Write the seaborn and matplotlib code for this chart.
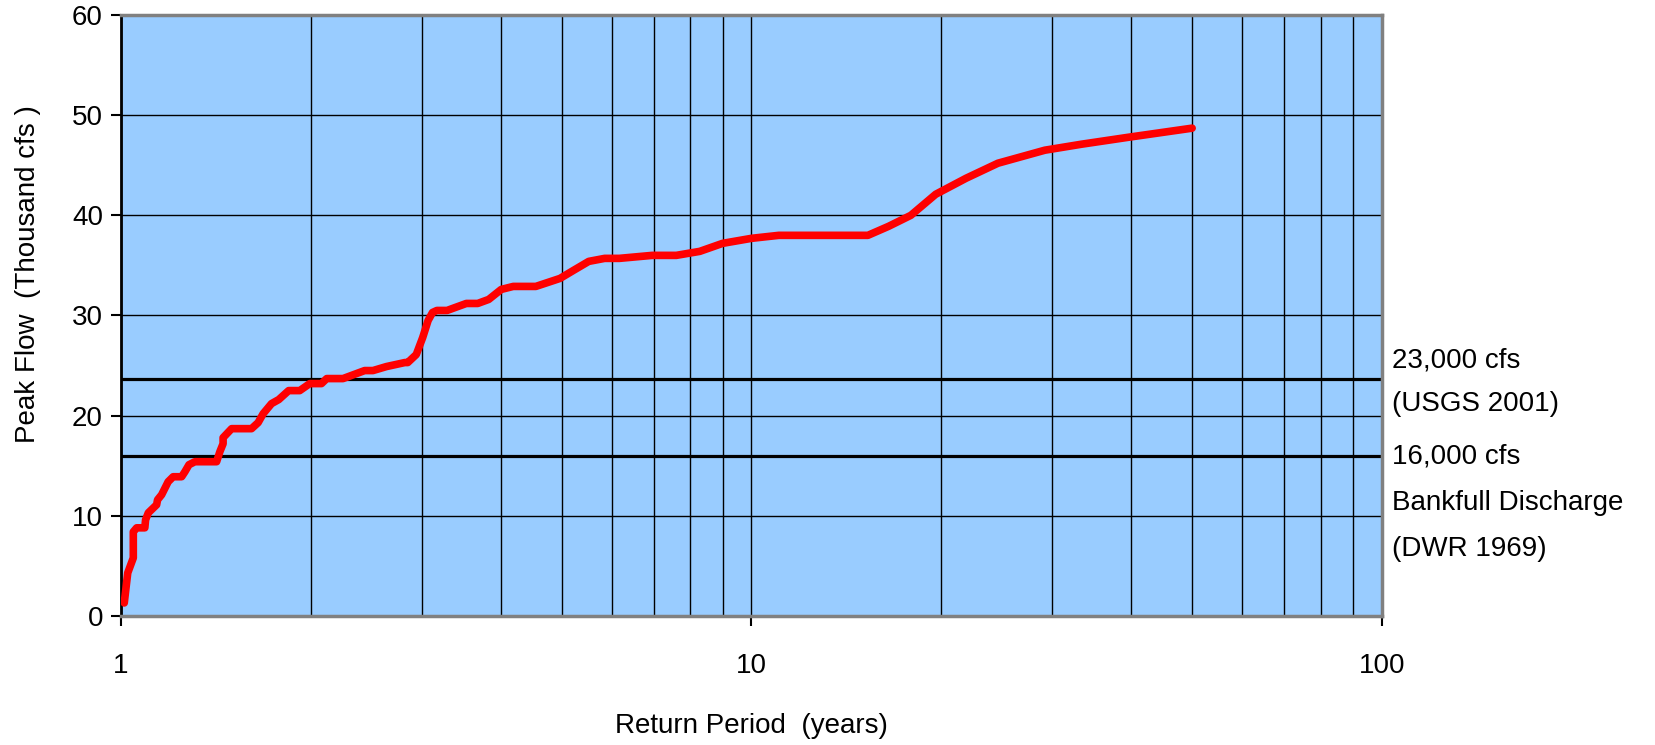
import numpy as np
import pandas as pd
import seaborn as sns
import matplotlib.pyplot as plt
from matplotlib.ticker import FixedLocator, NullFormatter, FixedFormatter

# return period (years) and peak flow (thousand cfs)
return_period = [1.012, 1.025, 1.046, 1.046, 1.059, 1.091, 1.094, 1.105, 1.139, 1.143,
                 1.160, 1.188, 1.210, 1.248, 1.263, 1.282, 1.310, 1.418, 1.435, 1.452,
                 1.452, 1.498, 1.611, 1.650, 1.681, 1.733, 1.779, 1.845, 1.921, 1.993,
                 2.08, 2.12, 2.25, 2.435, 2.51, 2.637, 2.82, 2.85, 2.94, 3.01,
                 3.07, 3.12, 3.17, 3.29, 3.53, 3.68, 3.83, 4.01, 4.19, 4.55,
                 4.97, 5.22, 5.52, 5.85, 6.17, 6.96, 7.60, 8.28, 9.0, 10.0,
                 11.05, 15.3, 16.5, 17.9, 19.6, 21.9, 24.6, 29.2, 33.4, 39.7, 50.0]
peak_flow = [1.3, 4.3, 5.8, 8.4, 8.8, 8.8, 9.6, 10.3, 11.1, 11.6,
             12.1, 13.4, 13.9, 13.9, 14.4, 15.1, 15.4, 15.4, 16.4, 17.2,
             17.8, 18.7, 18.7, 19.3, 20.2, 21.2, 21.6, 22.5, 22.5, 23.2,
             23.2, 23.7, 23.7, 24.5, 24.5, 24.9, 25.3, 25.3, 26.1, 27.8,
             29.5, 30.3, 30.5, 30.5, 31.2, 31.2, 31.6, 32.6, 32.9, 32.9,
             33.7, 34.5, 35.4, 35.7, 35.7, 36.0, 36.0, 36.4, 37.2, 37.7,
             38.0, 38.0, 38.9, 40.0, 42.1, 43.7, 45.2, 46.5, 47.1, 47.8, 48.7]

ref_levels = [23.7, 16.0]
ref_labels = ["23,000 cfs", "(USGS 2001)", "16,000 cfs", "Bankfull Discharge", "(DWR 1969)"]
ref_label_y = [25.5, 21.2, 15.9, 11.3, 6.7]

df = pd.DataFrame({'T': return_period, 'Q': peak_flow})

sns.set_style('white')
plt.rcParams['font.family'] = ['Liberation Sans', 'DejaVu Sans']
plt.rcParams['text.color'] = 'black'
plt.rcParams['axes.labelcolor'] = 'black'
plt.rcParams['xtick.color'] = 'black'
plt.rcParams['ytick.color'] = 'black'

fs = 20

fig = plt.figure(figsize=(16.55, 7.45), dpi=100)
ax = fig.add_axes([0.0731, 0.1732, 0.7619, 0.8067])
ax.set_facecolor('#99CCFF')

ax.set_xscale('log')
ax.set_xlim(1, 100)
ax.set_ylim(0, 60)

# grid
ax.xaxis.set_major_locator(FixedLocator([1, 10, 100]))
ax.xaxis.set_minor_locator(FixedLocator([2, 3, 4, 5, 6, 7, 8, 9, 20, 30, 40, 50, 60, 70, 80, 90]))
ax.xaxis.set_major_formatter(FixedFormatter(['1', '10', '100']))
ax.xaxis.set_minor_formatter(NullFormatter())
ax.set_yticks(range(0, 61, 10))
ax.grid(True, which='both', axis='x', color='black', lw=1.0)
ax.grid(True, which='major', axis='y', color='black', lw=1.0)
ax.set_axisbelow(True)

for lvl in ref_levels:
    ax.axhline(lvl, color='black', lw=2.3, zorder=2)

sns.lineplot(data=df, x='T', y='Q', estimator=None, sort=False, color='#FF0000',
             lw=5.5, solid_capstyle='round', solid_joinstyle='round', ax=ax, zorder=3)

for lab, yv in zip(ref_labels, ref_label_y):
    ax.text(1.008, yv, lab, transform=ax.get_yaxis_transform(), va='center', ha='left',
            fontsize=fs, color='black', clip_on=False)

ax.tick_params(axis='both', which='major', direction='out', length=7, width=1.5,
               color='black', labelsize=fs, bottom=True, left=True)
ax.tick_params(axis='x', which='major', pad=20)
ax.tick_params(axis='y', which='major', pad=6)
ax.tick_params(axis='x', which='minor', length=0)

ax.set_xlabel('Return Period  (years)', fontsize=fs, va='center')
ax.xaxis.set_label_coords(0.5, -0.183)
ax.set_ylabel('Peak Flow  (Thousand cfs )', fontsize=fs, va='center')
ax.yaxis.set_label_coords(-0.074, 0.569)

for side in ['top', 'right', 'bottom']:
    ax.spines[side].set_color('#808080')
    ax.spines[side].set_linewidth(2.5)
ax.spines['left'].set_color('black')
ax.spines['left'].set_linewidth(2)

fig.savefig('out.png', dpi=100)
